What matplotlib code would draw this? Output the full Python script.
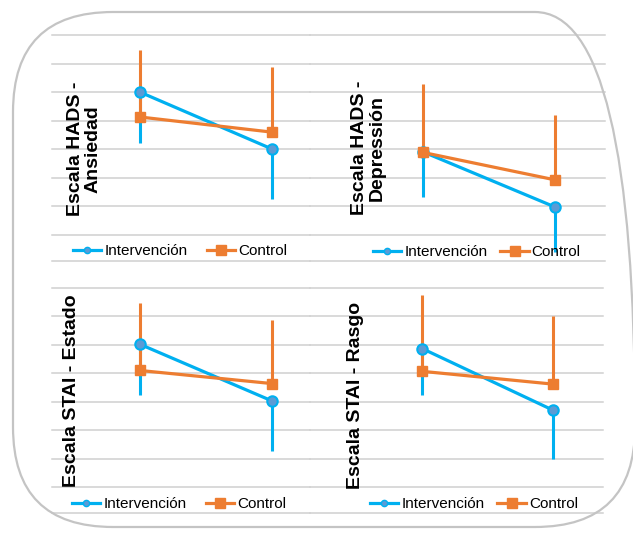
import matplotlib.pyplot as plt
from matplotlib.patches import FancyBboxPatch
from matplotlib.lines import Line2D
from matplotlib import font_manager

plt.rcParams['font.family'] = ['Liberation Sans', 'DejaVu Sans']

# two time points per panel (no tick labels shown in the chart)
times = [0, 1]

titles = ['Escala HADS -\nAnsiedad', 'Escala HADS -\nDepressión',
          'Escala STAI - Estado', 'Escala STAI - Rasgo']

# Intervención: mean and lower error
int_hads_ans = [6.00, 4.01]
int_hads_ans_lo = [1.78, 1.75]
int_hads_dep = [3.91, 1.98]
int_hads_dep_lo = [1.58, 1.56]
int_stai_est = [6.02, 4.03]
int_stai_est_lo = [1.79, 1.77]
int_stai_ras = [5.87, 3.70]
int_stai_ras_lo = [1.62, 1.72]

# Control: mean and upper error
ctl_hads_ans = [5.13, 4.60]
ctl_hads_ans_hi = [2.35, 2.28]
ctl_hads_dep = [3.89, 2.93]
ctl_hads_dep_hi = [2.38, 2.27]
ctl_stai_est = [5.10, 4.64]
ctl_stai_est_hi = [2.38, 2.22]
ctl_stai_ras = [5.07, 4.62]
ctl_stai_ras_hi = [2.69, 2.38]

int_means = [int_hads_ans, int_hads_dep, int_stai_est, int_stai_ras]
int_lows = [int_hads_ans_lo, int_hads_dep_lo, int_stai_est_lo, int_stai_ras_lo]
ctl_means = [ctl_hads_ans, ctl_hads_dep, ctl_stai_est, ctl_stai_ras]
ctl_highs = [ctl_hads_ans_hi, ctl_hads_dep_hi, ctl_stai_est_hi, ctl_stai_ras_hi]

BLUE = '#00B0F0'
BLUE_FACE = '#5B9BD5'
ORANGE = '#ED7D31'
GRID = '#d0d0d0'

# condensed face for the vertical titles if it is there
names = {f.name for f in font_manager.fontManager.ttflist}
if 'Liberation Sans Narrow' in names:
    title_family, title_size = 'Liberation Sans Narrow', 16.5
else:
    title_family, title_size = 'Liberation Sans', 14

W, H = 633, 535
fig = plt.figure(figsize=(W / 100, H / 100), dpi=100)


def fx(x):
    return x / W


def fy(y):
    return 1 - y / H


# rounded frame around everything (inch coordinates keep corners round)
frame = FancyBboxPatch((0.13, 0.08), 6.22, 5.15,
                       boxstyle='round,pad=0,rounding_size=1.0',
                       transform=fig.dpi_scale_trans, facecolor='none',
                       edgecolor='#c4c4c4', linewidth=1.6)
fig.patches.append(frame)

# panel boxes in pixels: (left, top, right, bottom)
boxes = [(52, 35, 310, 261), (310, 35, 605, 261),
         (52, 288, 310, 513), (310, 288, 603, 513)]
xlims = [(-0.667, 1.288), (-0.856, 1.379), (-0.667, 1.288), (-0.856, 1.379)]
label_pos = [(84, 149), (368, 148), (72, 391), (355, 395)]
legend_pos = [(73, 251), (373, 252), (72, 504), (370, 504)]
colspace = [1.25, 0.85, 1.25, 0.85]

for i in range(4):
    l, t, r, b = boxes[i]
    ax = fig.add_axes([fx(l), fy(b), fx(r) - fx(l), fy(t) - fy(b)])
    ax.set_xlim(*xlims[i])
    ax.set_ylim(0.09, 8)
    ax.set_facecolor('none')
    for v in range(1, 9):
        ax.axhline(v, color=GRID, lw=1.1, zorder=1, clip_on=False)
    ax.axhline(0.09, color=GRID, lw=1.1, zorder=1, clip_on=False)
    for s in ax.spines.values():
        s.set_visible(False)
    ax.set_xticks([])
    ax.set_yticks([])

    ax.errorbar(times, int_means[i], yerr=[int_lows[i], [0, 0]], fmt='none',
                ecolor=BLUE, elinewidth=2.2, capsize=0, zorder=2, clip_on=False)
    ax.errorbar(times, ctl_means[i], yerr=[[0, 0], ctl_highs[i]], fmt='none',
                ecolor=ORANGE, elinewidth=2.2, capsize=0, zorder=2, clip_on=False)
    ax.plot(times, int_means[i], color=BLUE, lw=2.3, marker='o', ms=7.5,
            mfc=BLUE_FACE, mec=BLUE, mew=1.5, zorder=3, clip_on=False)
    ax.plot(times, ctl_means[i], color=ORANGE, lw=2.3, marker='s', ms=7.5,
            mfc=ORANGE, mec=ORANGE, zorder=4, clip_on=False)

    handles = [Line2D([], [], color=BLUE, lw=2.3, marker='o', ms=4.5,
                      mfc=BLUE_FACE, mec=BLUE),
               Line2D([], [], color=ORANGE, lw=2.3, marker='s', ms=7,
                      mfc=ORANGE, mec=ORANGE)]
    lx, ly = legend_pos[i]
    ax.legend(handles, ['Intervención', 'Control'], loc='center left',
              bbox_to_anchor=(fx(lx), fy(ly)), bbox_transform=fig.transFigure,
              ncol=2, frameon=False, fontsize=11, handlelength=1.85,
              handletextpad=0.2, columnspacing=colspace[i],
              borderpad=0, borderaxespad=0)

    px, py = label_pos[i]
    fig.text(fx(px), fy(py), titles[i], rotation=90, ha='center', va='center',
             multialignment='center', fontsize=title_size, fontweight='bold',
             family=[title_family, 'DejaVu Sans'], linespacing=1.05)

fig.savefig('out.png', dpi=100)
